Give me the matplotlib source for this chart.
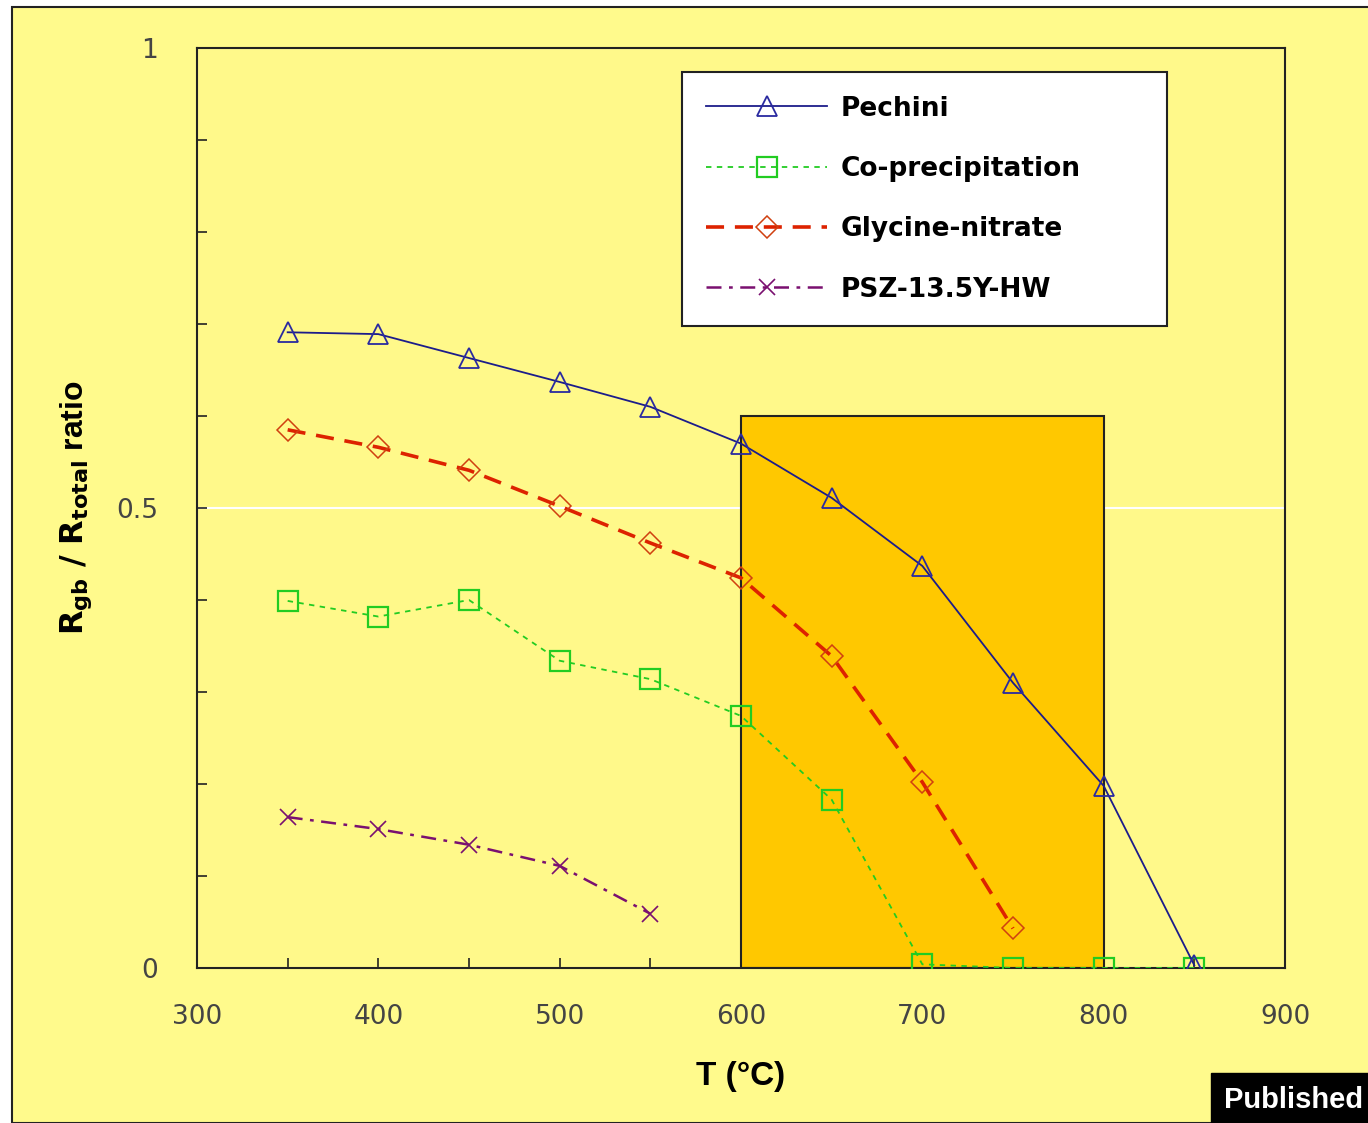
import matplotlib
matplotlib.use("Agg")
from matplotlib import pyplot as plt
from matplotlib.patches import Rectangle

# temperatures (°C)
temps = [350, 400, 450, 500, 550, 600, 650, 700, 750, 800, 850]

pechini = [0.691, 0.689, 0.663, 0.637, 0.610, 0.570, 0.511, 0.437, 0.310, 0.198, 0.003]
coprec = [0.399, 0.382, 0.400, 0.334, 0.314, 0.274, 0.183, 0.004, 0.0, 0.0, 0.0]
glycine_t = [350, 400, 450, 500, 550, 600, 650, 700, 750]
glycine = [0.585, 0.566, 0.541, 0.502, 0.462, 0.424, 0.339, 0.202, 0.043]
psz_t = [350, 400, 450, 500, 550]
psz = [0.164, 0.151, 0.134, 0.111, 0.059]

labels = ["Pechini", "Co-precipitation", "Glycine-nitrate", "PSZ-13.5Y-HW"]

W, H = 1368, 1123
fig = plt.figure(figsize=(W / 100, H / 100), dpi=100)
fig.patch.set_facecolor("white")

# yellow panel with black frame
fig.patches.append(Rectangle((12 / W, 0), 1.2, 1 - 7 / H, transform=fig.transFigure,
                             facecolor="#FFFA8C", edgecolor="#222222", lw=1.5, zorder=-10))

ax = fig.add_axes([197 / W, 1 - 968 / H, 1088 / W, 920 / H])
ax.set_facecolor("#FFF98A")

ax.add_patch(Rectangle((600, 0), 200, 0.6, facecolor="#FFC800", edgecolor="#222222",
                       lw=1.5, zorder=1))

ax.plot(temps, pechini, color="#1c1c8a", lw=1.3, marker="^", ms=14, mfc="none",
        mew=1.3, mec="#2a2aa0", label=labels[0], zorder=5)
ax.plot(temps, coprec, color="#22cc22", lw=1.3, ls=(0, (3, 3)), marker="s", ms=15,
        mfc="none", mew=1.6, mec="#22cc22", label=labels[1], zorder=4)
ax.plot(glycine_t, glycine, color="#dd2200", lw=2.6, ls=(0, (5, 3)), marker="D", ms=11,
        mfc="none", mew=1.1, mec="#d04010", label=labels[2], zorder=4)
ax.plot(psz_t, psz, color="#7a1070", lw=1.8, ls=(0, (6, 3, 1.5, 3)), marker="x", ms=11,
        mew=1.2, mec="#7a1070", label=labels[3], zorder=4)

ax.set_xlim(300, 900)
ax.set_ylim(0, 1)
ax.set_xticks(range(300, 901, 100))
ax.set_xticks(range(350, 900, 100), minor=True)
ax.set_yticks([0, 0.5, 1])
ax.set_yticklabels(["0", "0.5", "1"])
ax.set_yticks([0.1, 0.2, 0.3, 0.4, 0.6, 0.7, 0.8, 0.9], minor=True)
ax.tick_params(which="both", direction="in", length=7, width=1.2, color="#222222")
ax.tick_params(axis="y", which="major", pad=28, labelsize=19, labelcolor="#444444")
ax.tick_params(axis="x", which="major", pad=26, labelsize=19, labelcolor="#444444")

ax.yaxis.grid(True, which="major", color="white", lw=1.5)
ax.set_axisbelow(True)
for s in ax.spines.values():
    s.set_color("#222222")
    s.set_linewidth(1.5)

ax.set_xlabel("T (°C)", fontsize=24, fontweight="bold", family="Liberation Sans", labelpad=22)
ax.set_ylabel(r"$\mathbf{R_{gb}\ /\ R_{total}}$ ratio", fontsize=23, fontweight="bold",
              family="Liberation Sans", labelpad=16)

leg = ax.legend(loc="upper left", bbox_to_anchor=(0.446, 0.974, 0.446, 0.0), mode="expand",
                borderaxespad=0, fancybox=False, framealpha=1, edgecolor="#222222",
                handlelength=4.6, labelspacing=1.3, borderpad=0.9, handletextpad=0.5,
                prop={"family": "DejaVu Sans", "weight": "bold", "size": 19})
leg.get_frame().set_linewidth(1.5)

fig.text(1224 / W, 1 - 1100 / H, "Published", color="white", fontsize=21, fontweight="bold",
         family="Liberation Sans", va="center", ha="left",
         bbox=dict(boxstyle="square,pad=0.45", facecolor="black", edgecolor="black"))

fig.savefig("out.png", dpi=100, facecolor=fig.get_facecolor())
